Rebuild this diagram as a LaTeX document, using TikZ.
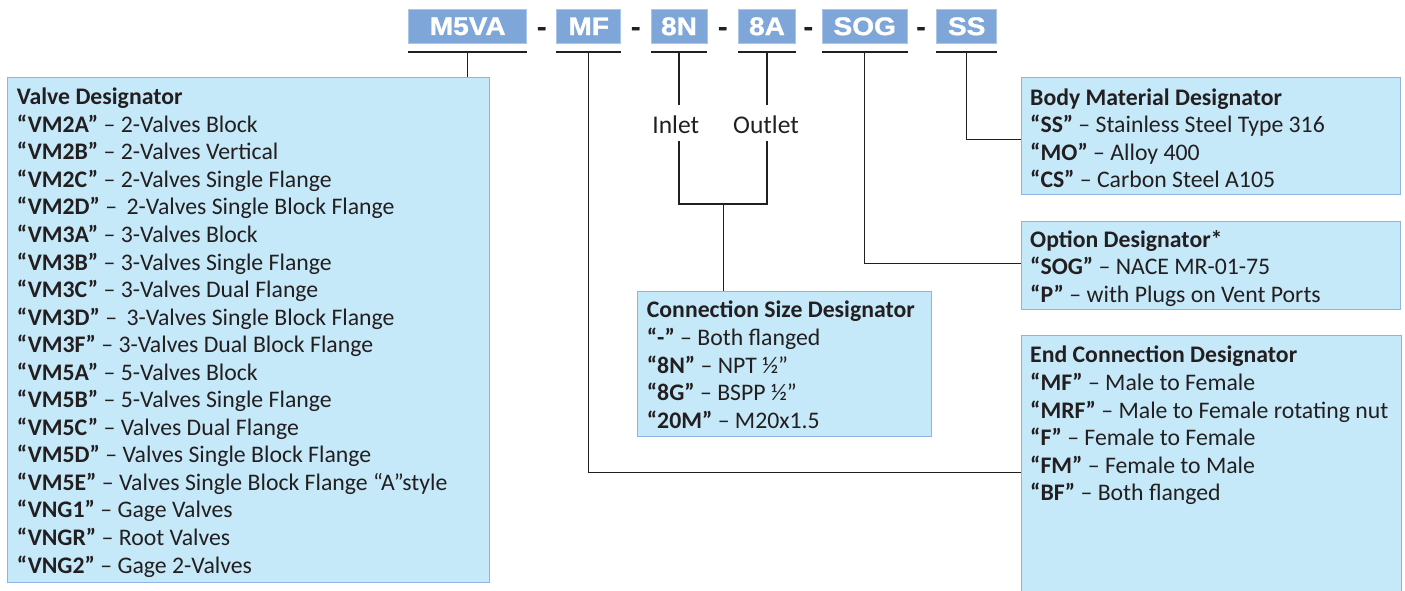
\documentclass[tikz,border=0pt]{standalone}
\usepackage{fontspec}
\setmainfont{Carlito}
\newfontfamily\codefont[FakeStretch=1.1,FakeBold=1.2]{Liberation Sans}
\definecolor{codeblue}{RGB}{126,166,216}
\definecolor{codeedge}{RGB}{170,198,234}
\definecolor{boxfill}{RGB}{198,233,249}
\definecolor{boxedge}{RGB}{143,180,226}
\definecolor{ink}{RGB}{35,31,32}
\newcommand\kcode[1]{\textbf{“#1”}}
\tikzset{
  codebox/.style={fill=codeblue, draw=codeedge, line width=0.6pt, inner sep=0pt,
    minimum height=34pt, text=white, font=\codefont\bfseries\fontsize{25.5}{27}\selectfont},
  dashtxt/.style={anchor=base, inner sep=0pt, text=ink, font=\codefont\bfseries\fontsize{25.5}{27}\selectfont},
  infobox/.style={fill=boxfill, draw=boxedge, line width=1pt, inner sep=0pt, anchor=north west},
  boxtxt/.style={anchor=north west, inner sep=0pt, align=left, text=ink, font=\fontsize{23.75}{27.55}\selectfont},
  lab/.style={anchor=base, inner sep=0pt, text=ink, font=\fontsize{25.5}{28}\selectfont},
  conn/.style={draw=ink, line width=1.3pt}
}
\begin{document}
\begin{tikzpicture}[x=1pt,y=-1pt]
\useasboundingbox (0,0) rectangle (1405,590);

% code boxes
\node[codebox, minimum width=118pt] (m5va) at (467.7,26.3) {M5VA};
\node[codebox, minimum width=64pt] (mf) at (588.7,26.3) {MF};
\node[codebox, minimum width=56pt] (n8) at (679,26.3) {8N};
\node[codebox, minimum width=57.4pt] (a8) at (767,26.3) {8A};
\node[codebox, minimum width=85.3pt] (sog) at (864.7,26.3) {SOG};
\node[codebox, minimum width=60pt] (ss) at (966.7,26.3) {SS};
\node[dashtxt] (d1) at (541.7,35.3) {-};
\node[dashtxt] (d2) at (635.7,35.3) {-};
\node[dashtxt] (d3) at (722.7,35.3) {-};
\node[dashtxt] (d4) at (808.3,35.3) {-};
\node[dashtxt] (d5) at (921,35.3) {-};

% info boxes
\node[infobox, minimum width=482pt, minimum height=504.4pt] (valve) at (7.3,77.3) {};
\node[infobox, minimum width=379.3pt, minimum height=116.7pt] (body) at (1020.7,77.3) {};
\node[infobox, minimum width=379.3pt, minimum height=88.6pt] (opt) at (1020.7,220.7) {};
\node[infobox, minimum width=380pt, minimum height=273.4pt] (endc) at (1020.7,335) {};
\node[infobox, minimum width=293.7pt, minimum height=145.3pt] (conn) at (637.3,290.7) {};

% underlines
\foreach \b in {m5va,mf,n8,a8,sog,ss}{
  \draw[conn] ([yshift=-8.4pt]\b.south west) -- ([yshift=-8.4pt]\b.south east);
}

% labels
\node[lab] (inlet) at (675.8,133.3) {Inlet};
\node[lab] (outlet) at (766,133.3) {Outlet};
\coordinate (inA) at (679,105);
\coordinate (inB) at (679,141);
\coordinate (outA) at (767,105);
\coordinate (outB) at (767,141);
\coordinate (join) at (723.3,204);

% connectors
\draw[conn] ([yshift=-8.4pt]m5va.south) -- (m5va.south |- valve.north);
\draw[conn] ([yshift=-8.4pt]mf.south) |- (endc.west);
\draw[conn] ([yshift=-8.4pt]n8.south) -- (inA);
\draw[conn] ([yshift=-8.4pt]a8.south) -- (outA);
\draw[conn] (inB) |- (join) -| (outB);
\draw[conn] (join) -- (join |- conn.north);
\draw[conn] ([yshift=-8.4pt]sog.south) |- ([yshift=1.7pt]opt.west);
\draw[conn] ([yshift=-8.4pt]ss.south) |- ([yshift=-3.4pt]body.west);

% texts
\node[boxtxt] (vtxt) at (16.7,84.5) {\rule{0pt}{20pt}\textbf{Valve Designator}\\
\kcode{VM2A} – 2-Valves Block\\
\kcode{VM2B} – 2-Valves Vertical\\
\kcode{VM2C} – 2-Valves Single Flange\\
\kcode{VM2D} – \,2-Valves Single Block Flange\\
\kcode{VM3A} – 3-Valves Block\\
\kcode{VM3B} – 3-Valves Single Flange\\
\kcode{VM3C} – 3-Valves Dual Flange\\
\kcode{VM3D} – \,3-Valves Single Block Flange\\
\kcode{VM3F} – 3-Valves Dual Block Flange\\
\kcode{VM5A} – 5-Valves Block\\
\kcode{VM5B} – 5-Valves Single Flange\\
\kcode{VM5C} – Valves Dual Flange\\
\kcode{VM5D} – Valves Single Block Flange\\
\kcode{VM5E} – Valves Single Block Flange “A”style\\
\kcode{VNG1} – Gage Valves\\
\kcode{VNGR} – Root Valves\\
\kcode{VNG2} – Gage 2-Valves};

\node[boxtxt] (btxt) at (1030,85) {\rule{0pt}{20pt}\textbf{Body Material Designator}\\
\kcode{SS} – Stainless Steel Type 316\\
\kcode{MO} – Alloy 400\\
\kcode{CS} – Carbon Steel A105};

\node[boxtxt] (otxt) at (1030,227) {\rule{0pt}{20pt}\textbf{Option Designator*}\\
\kcode{SOG} – NACE MR-01-75\\
\kcode{P} – with Plugs on Vent Ports};

\node[boxtxt] (etxt) at (1030,342.7) {\rule{0pt}{20pt}\textbf{End Connection Designator}\\
\kcode{MF} – Male to Female\\
\kcode{MRF} – Male to Female rotating nut\\
\kcode{F} – Female to Female\\
\kcode{FM} – Female to Male\\
\kcode{BF} – Both flanged};

\node[boxtxt] (ctxt) at (646.7,297.7) {\rule{0pt}{20pt}\textbf{Connection Size Designator}\\
\kcode{-} – Both flanged\\
\kcode{8N} – NPT ½”\\
\kcode{8G} – BSPP ½”\\
\kcode{20M} – M20x1.5};
\end{tikzpicture}
\end{document}
